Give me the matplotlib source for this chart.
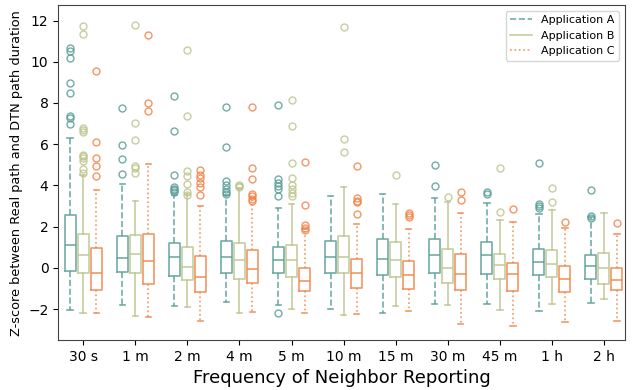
import matplotlib
matplotlib.use("Agg")
import matplotlib.pyplot as plt
import numpy as np

FREQS = ["30 s", "1 m", "2 m", "4 m", "5 m", "10 m", "15 m", "30 m", "45 m", "1 h", "2 h"]

# per application: q1, median, q3, whisker low, whisker high, fliers (one entry per frequency)
A_Q1 = [-0.15, -0.18, -0.40, -0.27, -0.26, -0.24, -0.35, -0.26, -0.31, -0.35, -0.56]
A_MED = [1.10, 0.48, 0.52, 0.52, 0.40, 0.52, 0.44, 0.61, 0.63, 0.27, 0.08]
A_Q3 = [2.55, 1.53, 1.19, 1.29, 1.00, 1.32, 1.39, 1.40, 1.24, 0.92, 0.61]
A_LO = [-2.02, -1.82, -1.85, -1.66, -1.81, -1.97, -2.21, -1.74, -1.74, -2.10, -1.68]
A_HI = [6.30, 4.06, 3.53, 3.56, 2.89, 3.48, 3.60, 3.40, 3.16, 2.60, 2.47]
A_FLIERS = [
    [10.66, 10.53, 10.18, 8.97, 8.47, 7.35, 7.27, 6.98],
    [7.74, 5.97, 5.29, 4.56],
    [8.35, 6.63, 4.53, 3.94, 3.85, 3.76, 3.69],
    [7.81, 5.87, 4.21, 4.02, 3.81, 3.69, 3.60],
    [7.92, 4.29, 4.13, 3.97, 3.81, 3.48, -2.18],
    [],
    [],
    [4.97, 3.97],
    [3.69, 3.60],
    [5.08, 3.08, 3.00, 2.92],
    [3.77, 2.52, 2.44],
]

B_Q1 = [-0.26, -0.27, -0.61, -0.52, -0.42, -0.26, -0.45, -0.71, -0.53, -0.45, -0.76]
B_MED = [0.65, 0.66, 0.06, 0.37, 0.37, 0.55, 0.37, 0.02, 0.15, 0.19, 0.02]
B_Q3 = [1.65, 1.58, 1.03, 1.19, 1.11, 1.53, 1.24, 0.94, 0.66, 0.85, 0.73]
B_LO = [-2.21, -2.32, -1.89, -2.21, -2.00, -2.27, -1.85, -1.79, -2.06, -1.77, -1.52]
B_HI = [4.53, 3.26, 3.61, 3.90, 3.08, 3.94, 3.08, 3.20, 2.34, 2.79, 2.65]
B_FLIERS = [
    [11.73, 11.34, 6.79, 6.70, 6.60, 5.50, 5.42, 5.34, 5.21, 4.82, 4.60],
    [11.77, 7.02, 6.19, 4.95, 4.85, 4.61],
    [10.56, 7.39, 4.69, 4.48, 4.06, 3.66, 3.56],
    [4.02, 3.97, 3.93],
    [8.16, 6.87, 5.11, 4.37, 4.00, 3.81, 3.65, 3.48],
    [11.68, 6.27, 5.61],
    [4.52],
    [3.45],
    [4.85, 2.71],
    [3.90, 3.21],
    [],
]

C_Q1 = [-1.08, -0.77, -1.18, -0.71, -1.11, -0.98, -1.00, -1.05, -1.10, -1.15, -1.08]
C_MED = [-0.26, 0.32, -0.42, -0.06, -0.63, -0.26, -0.32, -0.29, -0.31, -0.55, -0.58]
C_Q3 = [0.98, 1.63, 0.60, 0.85, 0.02, 0.42, 0.32, 0.66, 0.26, 0.10, 0.02]
C_LO = [-2.19, -2.39, -2.58, -2.13, -2.19, -2.23, -2.11, -2.73, -2.81, -2.63, -2.58]
C_HI = [3.76, 5.06, 3.00, 3.40, 1.87, 2.15, 1.87, 2.66, 2.23, 1.92, 1.66]
C_FLIERS = [
    [9.55, 6.10, 5.34, 4.94, 4.47],
    [11.32, 7.98, 7.63],
    [4.74, 4.53, 4.34, 4.13, 3.94, 3.53],
    [7.81, 4.84, 4.31, 3.60, 3.48, 3.32, 3.24],
    [5.15, 3.06, 2.08, 1.95, 1.84],
    [4.92, 3.37, 3.27, 3.18, 2.61],
    [2.65, 2.55, 2.47],
    [3.68, 3.29],
    [2.84],
    [2.24],
    [2.19],
]

APPS = ["Application A", "Application B", "Application C"]
COLORS = ["#5a9e98", "#bcc68e", "#f2844a"]
WHISKER_STYLES = ["--", "-", ":"]
OFFSETS = [-0.25, 0.0, 0.25]


def make_stats(q1, med, q3, lo, hi, fliers):
    return [dict(q1=a, med=b, q3=c, whislo=d, whishi=e, fliers=f)
            for a, b, c, d, e, f in zip(q1, med, q3, lo, hi, fliers)]


data = [
    make_stats(A_Q1, A_MED, A_Q3, A_LO, A_HI, A_FLIERS),
    make_stats(B_Q1, B_MED, B_Q3, B_LO, B_HI, B_FLIERS),
    make_stats(C_Q1, C_MED, C_Q3, C_LO, C_HI, C_FLIERS),
]

fig = plt.figure(figsize=(6.33, 3.9), dpi=100)
ax = fig.add_axes([0.092, 0.128, 0.895, 0.859])

x = np.arange(1, len(FREQS) + 1)
handles = []
for stats, color, ls, off, name in zip(data, COLORS, WHISKER_STYLES, OFFSETS, APPS):
    ax.bxp(stats, positions=x + off, widths=0.21, showfliers=True,
           boxprops=dict(color=color, linewidth=1.2, alpha=0.85),
           medianprops=dict(color=color, linewidth=1.2, alpha=0.85),
           whiskerprops=dict(color=color, linewidth=1.2, linestyle=ls, alpha=0.85),
           capprops=dict(color=color, linewidth=1.2, alpha=0.85),
           flierprops=dict(marker="o", markerfacecolor="none", markeredgecolor=color,
                           markersize=5, markeredgewidth=1.0, alpha=0.85))
    h, = ax.plot([], [], color=color, linestyle=ls, linewidth=1.2, alpha=0.85, label=name)
    handles.append(h)

ax.set_xticks(x)
ax.set_xticklabels(FREQS, fontsize=10)
ax.set_xlim(0.52, 11.4)
ax.set_ylim(-3.5, 12.75)
ax.set_yticks([-2, 0, 2, 4, 6, 8, 10, 12])
ax.tick_params(axis="y", labelsize=10)
ax.set_xlabel("Frequency of Neighbor Reporting", fontsize=13)
ax.set_ylabel("Z-score between Real path and DTN path duration", fontsize=9.3)
for s in ax.spines.values():
    s.set_color("#444444")
ax.legend(handles=handles, fontsize=8, loc="upper right")

plt.savefig("out.png", dpi=100)
plt.close()
